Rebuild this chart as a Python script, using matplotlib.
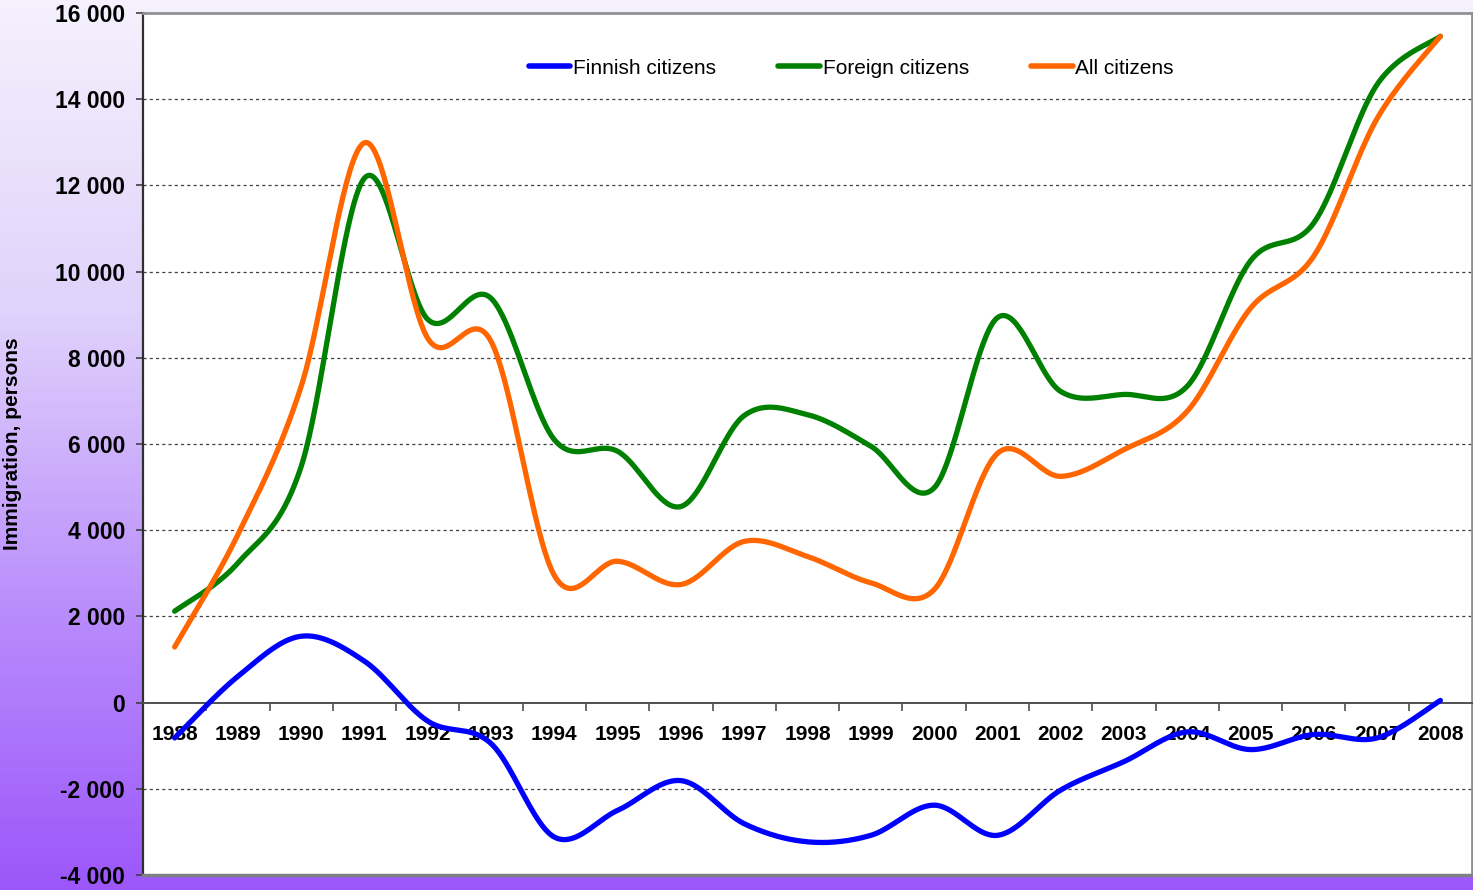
import numpy as np
import matplotlib.pyplot as plt
from matplotlib.ticker import FuncFormatter, MultipleLocator
from matplotlib.colors import LinearSegmentedColormap

plt.rcParams['font.family'] = ['Liberation Sans', 'DejaVu Sans']

years = [str(y) for y in range(1988, 2009)]
finnish = [-820, 610, 1540, 960, -430, -950, -3120, -2500, -1810, -2810, -3230,
           -3080, -2380, -3080, -2030, -1370, -680, -1090, -740, -820, 50]
foreign = [2120, 3240, 5480, 12170, 8890, 9380, 6100, 5830, 4550, 6660, 6680,
           5950, 4980, 8930, 7220, 7150, 7340, 10250, 11130, 14340, 15460]
all_citizens = [1290, 3900, 7340, 12990, 8450, 8380, 2950, 3280, 2740, 3740, 3390,
                2780, 2620, 5780, 5250, 5870, 6760, 9150, 10360, 13550, 15460]

series = [
    ("Finnish citizens", finnish, "#0000ff"),
    ("Foreign citizens", foreign, "#008000"),
    ("All citizens", all_citizens, "#ff6600"),
]


def smooth(ax, xs, ys, n=40):
    # excel-like smoothed line: catmull-rom bezier in screen space
    pts = ax.transData.transform(np.column_stack([xs, ys]))
    p = np.vstack([pts[0], pts, pts[-1]])
    t = np.linspace(0, 1, n)[:, None]
    out = []
    for i in range(1, len(p) - 2):
        p0, p1, p2, p3 = p[i - 1], p[i], p[i + 1], p[i + 2]
        c1 = p1 + (p2 - p0) / 6
        c2 = p2 - (p3 - p1) / 6
        seg = (1 - t) ** 3 * p1 + 3 * (1 - t) ** 2 * t * c1 + 3 * (1 - t) * t ** 2 * c2 + t ** 3 * p2
        out.append(seg if i == 1 else seg[1:])
    return ax.transData.inverted().transform(np.vstack(out))


fig = plt.figure(figsize=(14.73, 8.9), dpi=100)

# purple gradient background
bg = fig.add_axes([0, 0, 1, 1], zorder=-10)
cmap = LinearSegmentedColormap.from_list("bg", [
    (0.0, (245/255, 241/255, 253/255)),
    (0.35, (224/255, 210/255, 251/255)),
    (0.7, (184/255, 138/255, 252/255)),
    (1.0, (156/255, 86/255, 250/255)),
])
grad = np.linspace(0, 1, 256)[:, None]
bg.imshow(grad, aspect='auto', cmap=cmap, extent=[0, 1, 0, 1], origin='upper')
bg.set_axis_off()

ax = fig.add_axes([143/1473, 15/890, 1329/1473, 862/890])
ax.set_facecolor('white')
x = np.arange(len(years))
ax.set_xlim(-0.5, len(years) - 0.5)
ax.set_ylim(-4000, 16000)

for name, vals, color in series:
    curve = smooth(ax, x, vals)
    ax.plot(curve[:, 0], curve[:, 1], color=color, lw=3.8, solid_capstyle='round',
            label=name, zorder=3)

# grid
for v in range(-2000, 16000, 2000):
    if v != 0:
        ax.axhline(v, color='#404040', lw=0.9, ls=(0, (2.5, 2.5)), zorder=1)
ax.axhline(-4000, color='#808080', lw=2.5, zorder=4, clip_on=False)

# y axis
ax.yaxis.set_major_locator(MultipleLocator(2000))
ax.yaxis.set_major_formatter(FuncFormatter(lambda v, p: f"{int(v):,}".replace(",", " ")))
ax.tick_params(axis='y', direction='out', length=5, width=1.2, color='#404040',
               labelsize=16.5, pad=8)
for lab in ax.get_yticklabels():
    lab.set_fontweight('bold')

# x axis sits at zero
ax.spines['bottom'].set_position(('data', 0))
ax.spines['bottom'].set_color('#505050')
ax.spines['bottom'].set_linewidth(1.4)
ax.set_xticks(x)
ax.set_xticklabels(years, fontsize=15, fontweight='bold')
ax.set_xticks(x[:-1] + 0.5, minor=True)
ax.tick_params(axis='x', which='major', length=0, pad=16)
ax.tick_params(axis='x', which='minor', direction='out', length=6, width=1.2, color='#505050')

ax.spines['left'].set_color('#303030')
ax.spines['left'].set_linewidth(1.6)
for s in ['top', 'right']:
    ax.spines[s].set_color('#909090')
    ax.spines[s].set_linewidth(2)

ax.set_ylabel("Immigration, persons", fontsize=15, fontweight='bold')
ax.yaxis.set_label_coords(-0.091, 0.5)

leg = ax.legend(loc='center', bbox_to_anchor=(0.533, 0.936), ncol=3, frameon=False,
                fontsize=15, handlelength=2.0, handletextpad=0.12, columnspacing=3.0)
for h in leg.get_lines():
    h.set_linewidth(4)

fig.savefig("out.png", dpi=100)
